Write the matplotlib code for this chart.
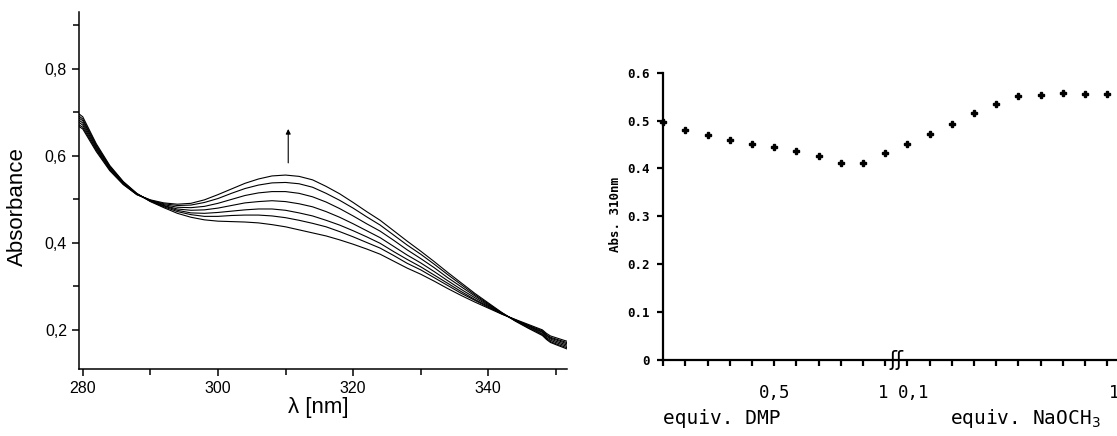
import matplotlib
matplotlib.use("Agg")
import matplotlib.pyplot as plt

# left panel: UV-vis spectra (7 traces, lowest -> highest band at 310 nm)
wavelength = [279, 280, 282, 284, 286, 288, 290, 292, 294, 296, 298, 300, 302, 304,
              306, 308, 310, 312, 314, 316, 318, 320, 322, 324, 326, 328, 330, 332,
              334, 336, 338, 340, 342, 344, 346, 347, 348, 348.6, 349.2, 350, 352]
spec_0 = [.702, .690, .628, .578, .541, .514, .495, .481, .468, .459, .453, .450, .449, .448,
          .446, .442, .437, .430, .423, .416, .407, .397, .386, .374, .358, .342, .328, .312,
          .295, .279, .264, .250, .236, .224, .212, .206, .200, .192, .186, .182, .172]
spec_1 = [.697, .685, .625, .576, .540, .513, .496, .483, .472, .465, .461, .461, .463, .464,
          .464, .462, .458, .452, .445, .437, .426, .414, .401, .388, .371, .353, .338, .320,
          .302, .284, .268, .252, .237, .223, .210, .204, .198, .189, .183, .179, .169]
spec_2 = [.692, .681, .622, .574, .539, .513, .496, .485, .475, .469, .468, .470, .473, .476,
          .478, .478, .475, .469, .462, .452, .441, .428, .414, .399, .380, .362, .345, .326,
          .307, .288, .270, .254, .237, .223, .209, .202, .196, .188, .181, .177, .166]
spec_3 = [.687, .676, .619, .572, .538, .512, .497, .486, .478, .475, .476, .480, .486, .492,
          .495, .497, .495, .490, .483, .472, .459, .444, .428, .412, .392, .372, .354, .334,
          .313, .293, .274, .256, .238, .222, .208, .201, .194, .185, .179, .174, .163]
spec_4 = [.682, .671, .616, .570, .536, .512, .498, .488, .482, .481, .484, .491, .500, .509,
          .515, .518, .518, .514, .506, .494, .479, .462, .444, .427, .406, .384, .364, .343,
          .320, .299, .278, .258, .239, .221, .206, .199, .191, .182, .176, .171, .160]
spec_5 = [.676, .666, .613, .568, .535, .511, .498, .490, .486, .487, .493, .502, .514, .525,
          .533, .538, .539, .536, .528, .514, .498, .480, .460, .441, .418, .395, .374, .351,
          .327, .304, .281, .260, .239, .221, .204, .197, .189, .180, .173, .168, .157]
spec_6 = [.672, .662, .610, .566, .534, .511, .499, .492, .489, .491, .499, .511, .524, .537,
          .547, .554, .556, .553, .545, .530, .513, .493, .472, .452, .428, .404, .381, .357,
          .332, .308, .284, .262, .240, .220, .203, .195, .187, .178, .171, .166, .154]
spectra = [spec_0, spec_1, spec_2, spec_3, spec_4, spec_5, spec_6]

abs_ticks = [0.2, 0.4, 0.6, 0.8]
abs_ticklabels = ["0,2", "0,4", "0,6", "0,8"]
wl_ticks = [280, 300, 320, 340]

# right panel: absorbance at 310 nm vs equivalents
dmp_equiv = [0.0, 0.1, 0.2, 0.3, 0.4, 0.5, 0.6, 0.7, 0.8, 0.9, 1.0]
dmp_abs = [0.496, 0.480, 0.470, 0.460, 0.451, 0.444, 0.437, 0.426, 0.412, 0.412, 0.432]
naome_equiv = [0.1, 0.2, 0.3, 0.4, 0.5, 0.6, 0.7, 0.8, 0.9, 1.0]
naome_abs = [0.451, 0.471, 0.493, 0.515, 0.535, 0.552, 0.554, 0.557, 0.555, 0.555]
right_yticks = [0, 0.1, 0.2, 0.3, 0.4, 0.5, 0.6]
right_yticklabels = ["0", "0.1", "0.2", "0.3", "0.4", "0.5", "0.6"]

W, H = 1117, 436
fig = plt.figure(figsize=(W / 100, H / 100), dpi=100)
plt.rcParams["font.family"] = ["Liberation Sans", "DejaVu Sans"]

# ---- left panel ----
ax = fig.add_axes([78.7 / W, 1 - 369 / H, (566.7 - 78.7) / W, (369 - 12) / H])
for s in spectra:
    ax.plot(wavelength, s, color="black", lw=0.8)
ax.set_xlim(279.4, 351.6)
ax.set_ylim(0.11, 0.931)
ax.spines["top"].set_visible(False)
ax.spines["right"].set_visible(False)
for side in ("left", "bottom"):
    ax.spines[side].set_linewidth(1.1)
ax.set_yticks(abs_ticks)
ax.set_yticklabels(abs_ticklabels)
ax.set_yticks([0.3, 0.5, 0.7, 0.9], minor=True)
ax.set_xticks(wl_ticks)
ax.set_xticks([290, 310, 330, 350], minor=True)
ax.tick_params(which="both", direction="out", width=1.1, labelsize=11.5, color="black")
ax.tick_params(which="major", length=5)
ax.tick_params(which="minor", length=4)
ax.set_ylabel("Absorbance", fontsize=16)
ax.yaxis.set_label_coords(-0.104, 0.455)
ax.set_xlabel("λ [nm]", fontsize=16)
ax.xaxis.set_label_coords(0.49, -0.078)
ax.annotate("", xy=(310.4, 0.662), xytext=(310.4, 0.584),
            arrowprops=dict(arrowstyle="-|>", color="black", lw=0.8,
                            mutation_scale=7, shrinkA=0, shrinkB=0))

# ---- right panel ----
pos_dmp = dmp_equiv
pos_naome = [1 + v for v in naome_equiv]
ax2 = fig.add_axes([663.3 / W, 1 - 360 / H, (W - 663.3) / W, (360 - 72.7) / H])
ax2.plot(pos_dmp + pos_naome, dmp_abs + naome_abs, linestyle="none",
         marker="P", markersize=5, color="black", clip_on=False)
ax2.set_xlim(0, 2.044)
ax2.set_ylim(0, 0.6)
ax2.spines["top"].set_visible(False)
ax2.spines["right"].set_visible(False)
for side in ("left", "bottom"):
    ax2.spines[side].set_linewidth(1.6)
ax2.set_yticks(right_yticks)
ax2.set_yticklabels(right_yticklabels, fontfamily="DejaVu Sans Mono",
                    fontweight="bold", fontsize=9)
ax2.set_xticks(pos_dmp + pos_naome)
ax2.set_xticklabels([])
ax2.tick_params(direction="out", length=4, width=1.6, color="black")
ax2.tick_params(axis="y", pad=6)

mono = dict(fontfamily="DejaVu Sans Mono", fontsize=12.5, color="black")
trans = ax2.get_xaxis_transform()
ax2.text(0.5, -0.115, "0,5", ha="center", va="center", transform=trans, **mono)
ax2.text(0.99, -0.115, "1", ha="center", va="center", transform=trans, **mono)
ax2.text(1.13, -0.115, "0,1", ha="center", va="center", transform=trans, **mono)
ax2.text(2.03, -0.115, "1", ha="center", va="center", transform=trans, **mono)
ax2.text(0.0, -0.205, "equiv. DMP", ha="left", va="center", transform=trans,
         fontfamily="DejaVu Sans Mono", fontsize=14)
ax2.text(1.29, -0.205, "equiv. NaOCH$_3$", ha="left", va="center", transform=trans,
         fontfamily="DejaVu Sans Mono", fontsize=14)
ax2.text(1.05, 0.0, "ʃʃ", ha="center", va="center", transform=trans,
         fontfamily="DejaVu Sans", fontsize=15)
ax2.set_ylabel("Abs. 310nm", fontfamily="DejaVu Sans Mono", fontweight="bold",
               fontsize=9)
ax2.yaxis.set_label_coords(-0.091, 0.505)

fig.savefig("out.png", dpi=100)
